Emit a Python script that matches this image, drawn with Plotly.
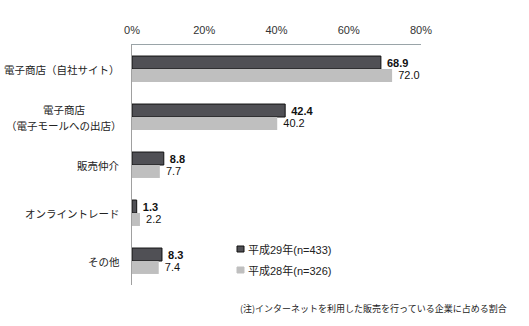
import plotly.graph_objects as go

categories = [
    "電子商店（自社サイト）",
    "電子商店<br>（電子モールへの出店）",
    "販売仲介",
    "オンライントレード",
    "その他",
]
series_names = ["平成29年(n=433)", "平成28年(n=326)"]
values_h29 = [68.9, 42.4, 8.8, 1.3, 8.3]
values_h28 = [72.0, 40.2, 7.7, 2.2, 7.4]
x_ticks = [0, 20, 40, 60, 80]
note = "(注)インターネットを利用した販売を行っている企業に占める割合"

colors = ["#505055", "#bfbfbf"]
outlines = ["#111111", "#bfbfbf"]

latin = "Liberation Sans, Arial, sans-serif"
cjk = "Noto Sans CJK JP, sans-serif"
mixed = "Liberation Sans, Arial, Noto Sans CJK JP, sans-serif"

W, H = 529, 326
M = dict(l=132, r=108, t=45, b=41)
PW = W - M["l"] - M["r"]
PH = H - M["t"] - M["b"]


def px_x(x):
    """pixel column -> paper x"""
    return (x - M["l"]) / PW


def px_y(y):
    """pixel row -> paper y"""
    return (H - M["b"] - y) / PH


fig = go.Figure()
for i, (name, vals) in enumerate(zip(series_names, [values_h29, values_h28])):
    labels = [f"\u00a0{v:.1f}" for v in vals]
    if i == 0:
        labels = [f"\u00a0<b>{v:.1f}</b>" for v in vals]
    fig.add_trace(go.Bar(
        y=categories, x=vals, orientation="h", name=name,
        marker=dict(color=colors[i], line=dict(color=outlines[i], width=1 if i == 0 else 0)),
        text=labels, textposition="outside",
        textfont=dict(family=latin, size=11, color="#111111"),
        cliponaxis=False, showlegend=False,
    ))

# category labels to the left of the axis
for c in categories:
    lines = c.split("<br>")
    if len(lines) == 1:
        fig.add_annotation(
            x=0, xref="paper", y=c, yref="y", text=c, showarrow=False,
            xanchor="right", xshift=-10,
            font=dict(family=cjk, size=10.5, color="#222222"),
        )
    else:
        for k, ln in enumerate(lines):
            fig.add_annotation(
                x=px_x(64), xref="paper", y=c, yref="y", text=ln, showarrow=False,
                xanchor="center", yshift=8 - 16 * k,
                font=dict(family=cjk, size=10.5, color="#222222"),
            )

# legend: small squares with labels
legend_rows = [249, 270]
for i, name in enumerate(series_names):
    yc = legend_rows[i]
    fig.add_shape(
        type="rect", xref="paper", yref="paper",
        x0=px_x(237), x1=px_x(244), y0=px_y(yc - 3), y1=px_y(yc + 3),
        fillcolor=colors[i], line=dict(color=outlines[i], width=1),
    )
    fig.add_annotation(
        x=px_x(246), xref="paper", y=px_y(yc), yref="paper", text=name,
        showarrow=False, xanchor="left", yanchor="middle",
        font=dict(family=mixed, size=11, color="#222222"),
    )

fig.add_annotation(
    x=px_x(509), xref="paper", y=px_y(308), yref="paper", text=note, showarrow=False,
    xanchor="right", yanchor="middle",
    font=dict(family=cjk, size=9, color="#222222"),
)

fig.update_layout(
    width=W, height=H,
    margin=M,
    paper_bgcolor="white", plot_bgcolor="white",
    barmode="group", bargap=0.46, bargroupgap=0,
    showlegend=False,
    xaxis=dict(
        side="top", range=[0, 80], tickvals=x_ticks,
        ticktext=[f"{t}%" for t in x_ticks],
        showgrid=False, zeroline=False, showline=True,
        linecolor="#9aa4a8", linewidth=1, ticks="",
        ticklabelstandoff=6,
        tickfont=dict(family=latin, size=11, color="#333333"),
    ),
    yaxis=dict(
        autorange="reversed", showticklabels=False, showgrid=False,
        showline=True, linecolor="#a0a0a0", linewidth=1, ticks="",
        zeroline=False,
    ),
)

fig.write_html("out.html")
